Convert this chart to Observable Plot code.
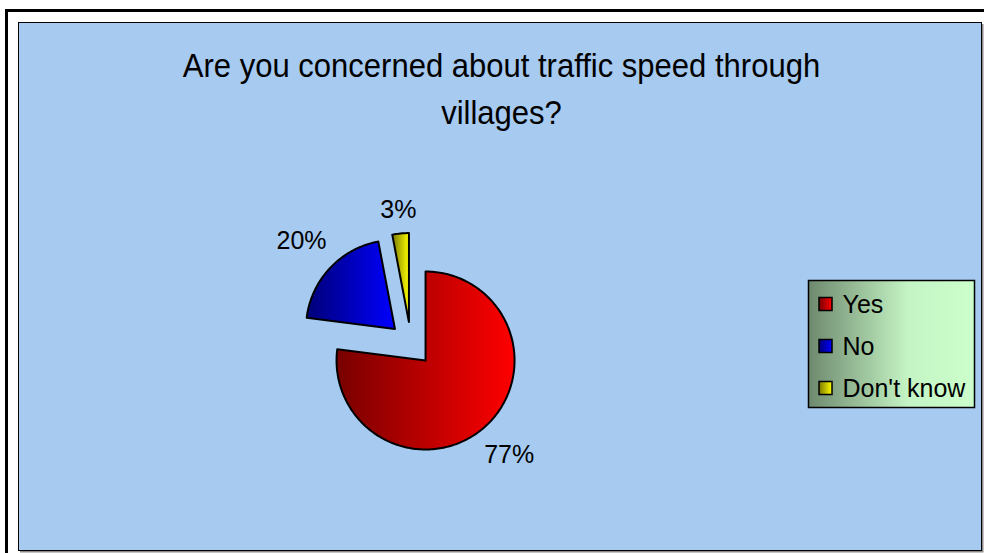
<!DOCTYPE html>
<html><head><meta charset="utf-8">
<script src="https://cdn.jsdelivr.net/npm/d3@7"></script>
<script src="https://cdn.jsdelivr.net/npm/@observablehq/plot@0.6"></script>
<style>html,body{margin:0;padding:0;background:#fff;overflow:hidden;}</style>
</head><body><div id="chart"></div>
<script>
const title = "Are you concerned about traffic speed through\nvillages?";
const categories = ["Yes", "No", "Don't know"];
const values = [77, 20, 3];
const labels = ["77%", "20%", "3%"];
const gradientIds = ["gYes", "gNo", "gDK"];
const gradientStops = [["#780000", "#ff0000"], ["#000078", "#0000ff"], ["#787800", "#ffff00"]];

const W = 984, H = 553;
const cx = 410.5, cy = 343.5, R = 89, explode = 22;
const arcs = d3.pie().sort(null)(values);
const pts = [], lab = [];
arcs.forEach((a, i) => {
  const mid = (a.startAngle + a.endAngle) / 2;
  const ox = cx + explode * Math.sin(mid), oy = cy - explode * Math.cos(mid);
  pts.push({cat: categories[i], x: ox, y: oy});
  const n = Math.max(2, Math.ceil((a.endAngle - a.startAngle) / 0.02));
  for (let k = 0; k <= n; k++) {
    const t = a.startAngle + (a.endAngle - a.startAngle) * k / n;
    pts.push({cat: categories[i], x: ox + R * Math.sin(t), y: oy - R * Math.cos(t)});
  }
  const d = R + explode + 21 + 25 * Math.abs(Math.sin(mid));
  lab.push({text: labels[i], x: cx + d * Math.sin(mid), y: cy - d * Math.cos(mid)});
});
const legRows = categories.map((c, i) => ({cat: c, y: 304 + i * 42}));

const svg = Plot.plot({
  width: W, height: H, margin: 0,
  x: {domain: [0, W], range: [0, W], axis: null},
  y: {domain: [0, H], range: [0, H], axis: null},
  color: {type: "ordinal", domain: categories, range: gradientIds.map(id => `url(#${id})`)},
  style: {fontFamily: "'Liberation Sans', Arial, sans-serif", background: "#fff", overflow: "hidden"},
  marks: [
    Plot.rect([0], {x1: 6.5, x2: W + 10, y1: 10.5, y2: H + 10, fill: "none", stroke: "#000", strokeWidth: 3}),
    Plot.rect([0], {x1: 20, x2: 983.5, y1: 24, y2: 552.5, fill: "#8a8a8a"}),
    Plot.rect([0], {x1: 18.5, x2: 981.5, y1: 22.5, y2: 550.5, fill: "#a6caf0", stroke: "#000", strokeWidth: 1}),
    Plot.text([title], {x: 501, y: 85, text: d => d, fontSize: 33, lineHeight: 1.42, fill: "#000"}),
    Plot.line(pts, {x: "x", y: "y", z: "cat", fill: "cat", stroke: "#000", strokeWidth: 2, curve: "linear-closed"}),
    Plot.text(lab, {x: "x", y: "y", text: "text", fontSize: 25, fill: "#000"}),
    Plot.rect([0], {x1: 808.5, x2: 974.5, y1: 280.5, y2: 407.5, fill: "url(#gLegend)", stroke: "#000", strokeWidth: 1.5}),
    Plot.rect(legRows, {x1: 819, x2: 832, y1: d => d.y - 6.5, y2: d => d.y + 6.5, fill: "cat", stroke: "#000", strokeWidth: 1.5}),
    Plot.text(legRows, {x: 842, y: "y", text: "cat", textAnchor: "start", fontSize: 25, fill: "#000"})
  ]
});

const defs = d3.select(svg).insert("defs", ":first-child");
gradientIds.forEach((id, i) => {
  const g = defs.append("linearGradient").attr("id", id).attr("x1", 0).attr("x2", 1).attr("y1", 0).attr("y2", 0);
  g.append("stop").attr("offset", 0).attr("stop-color", gradientStops[i][0]);
  g.append("stop").attr("offset", 1).attr("stop-color", gradientStops[i][1]);
});
const lg = defs.append("linearGradient").attr("id", "gLegend").attr("x1", 0).attr("x2", 1).attr("y1", 0).attr("y2", 0);
lg.append("stop").attr("offset", 0).attr("stop-color", "#6e896e");
lg.append("stop").attr("offset", 0.6).attr("stop-color", "#c4f4c4");
lg.append("stop").attr("offset", 1).attr("stop-color", "#ccffcc");

// narrow the title glyphs horizontally, as in the reference
d3.select(svg).selectAll("text")
  .filter(function() { return this.textContent.startsWith("Are you"); })
  .attr("transform", function() { return (this.getAttribute("transform") || "") + " scale(0.94,1)"; });

document.getElementById("chart").appendChild(svg);
</script>
</body></html>
